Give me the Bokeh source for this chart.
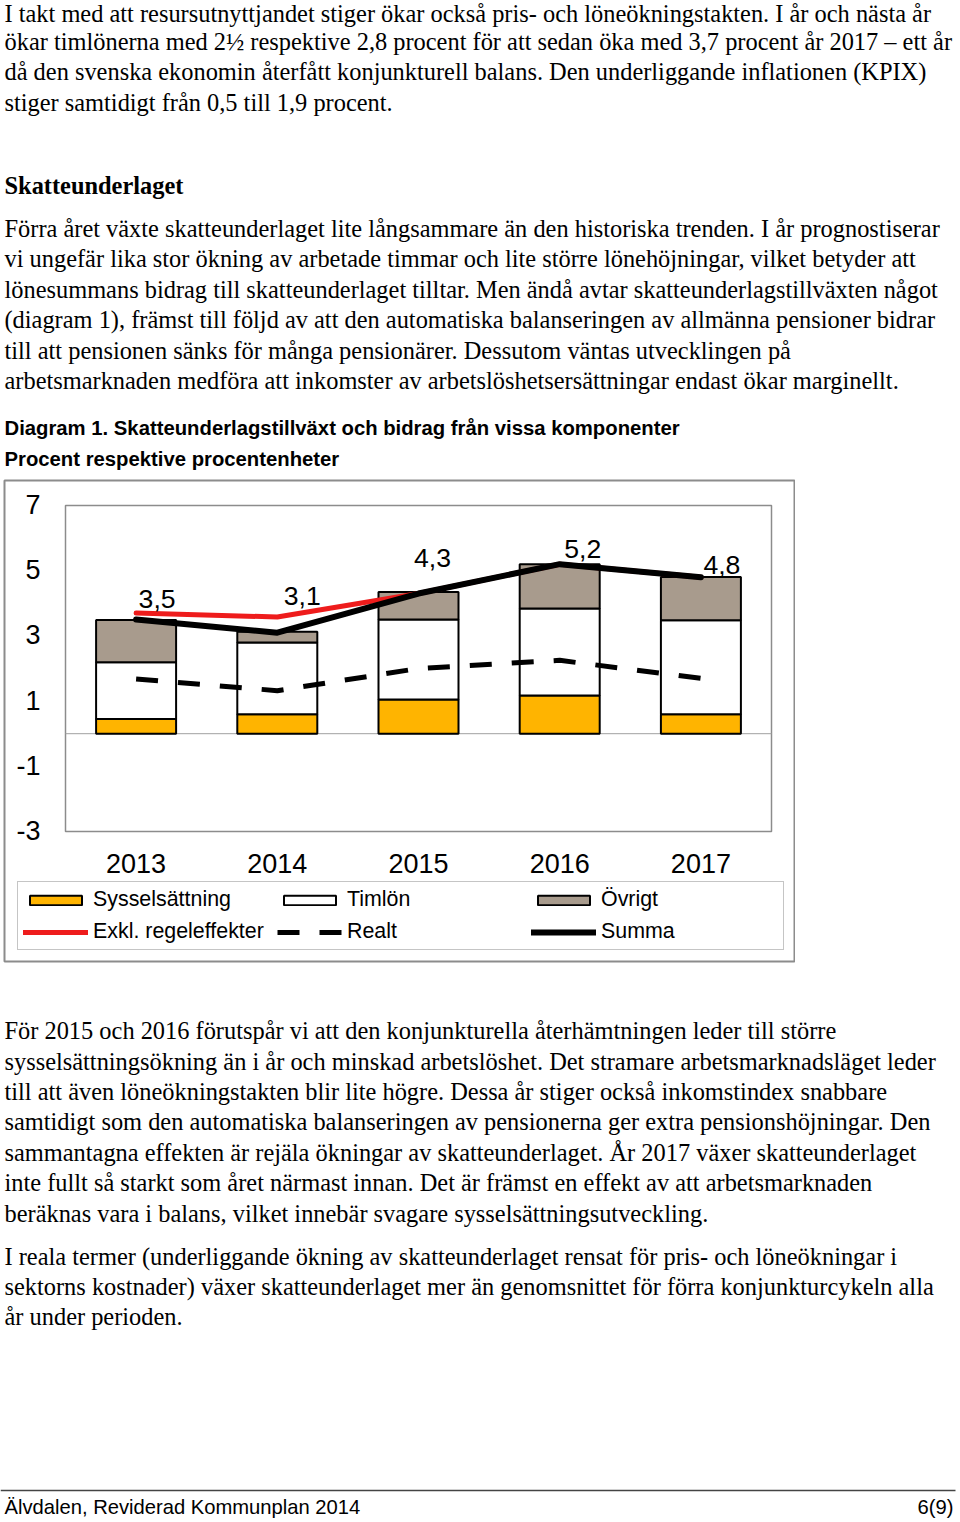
from bokeh.plotting import figure
from bokeh.layouts import column
from bokeh.models import Range1d, ColumnDataSource, Legend, LegendItem
from bokeh.core.properties import value
from bokeh.embed import file_html
from bokeh.resources import INLINE

# ---------------- data ----------------
years = ["2013", "2014", "2015", "2016", "2017"]
sysselsattning = [0.45, 0.60, 1.05, 1.17, 0.60]
timlon = [1.74, 2.20, 2.45, 2.67, 2.88]
ovrigt = [1.30, 0.33, 0.85, 1.36, 1.33]
exkl_regeleffekter = [3.70, 3.58, 4.30, 5.20, 4.80]
realt = [1.68, 1.32, 2.00, 2.25, 1.70]
summa = [3.5, 3.1, 4.3, 5.2, 4.8]
y_ticks = [-3, -1, 1, 3, 5, 7]
series_names = ["Sysselsättning", "Timlön", "Övrigt", "Exkl. regeleffekter", "Realt", "Summa"]

para1 = [
    "I takt med att resursutnyttjandet stiger ökar också pris- och löneökningstakten. I år och nästa år",
    "ökar timlönerna med 2½ respektive 2,8 procent för att sedan öka med 3,7 procent år 2017 – ett år",
    "då den svenska ekonomin återfått konjunkturell balans. Den underliggande inflationen (KPIX)",
    "stiger samtidigt från 0,5 till 1,9 procent.",
]
heading = "Skatteunderlaget"
para2 = [
    "Förra året växte skatteunderlaget lite långsammare än den historiska trenden. I år prognostiserar",
    "vi ungefär lika stor ökning av arbetade timmar och lite större lönehöjningar, vilket betyder att",
    "lönesummans bidrag till skatteunderlaget tilltar. Men ändå avtar skatteunderlagstillväxten något",
    "(diagram 1), främst till följd av att den automatiska balanseringen av allmänna pensioner bidrar",
    "till att pensionen sänks för många pensionärer. Dessutom väntas utvecklingen på",
    "arbetsmarknaden medföra att inkomster av arbetslöshetsersättningar endast ökar marginellt.",
]
chart_title = ["Diagram 1. Skatteunderlagstillväxt och bidrag från vissa komponenter",
               "Procent respektive procentenheter"]
para3 = [
    "För 2015 och 2016 förutspår vi att den konjunkturella återhämtningen leder till större",
    "sysselsättningsökning än i år och minskad arbetslöshet. Det stramare arbetsmarknadsläget leder",
    "till att även löneökningstakten blir lite högre. Dessa år stiger också inkomstindex snabbare",
    "samtidigt som den automatiska balanseringen av pensionerna ger extra pensionshöjningar. Den",
    "sammantagna effekten är rejäla ökningar av skatteunderlaget. År 2017 växer skatteunderlaget",
    "inte fullt så starkt som året närmast innan. Det är främst en effekt av att arbetsmarknaden",
    "beräknas vara i balans, vilket innebär svagare sysselsättningsutveckling.",
]
para4 = [
    "I reala termer (underliggande ökning av skatteunderlaget rensat för pris- och löneökningar i",
    "sektorns kostnader) växer skatteunderlaget mer än genomsnittet för förra konjunkturcykeln alla",
    "år under perioden.",
]
footer_left = "Älvdalen, Reviderad Kommunplan 2014"
footer_right = "6(9)"

# ---------------- styles / layout ----------------
SERIF = value("Liberation Serif")
SANS = value("Liberation Sans")
SANS_NAME = "Liberation Sans"
BODY_SIZE = "24.4px"
ORANGE = "#FFB400"
TAUPE = "#A89B8D"
RED = "#EE1C1C"
FRAME_GRAY = "#8c8c8c"
W = 958
TOP_H, CH_H, BOT_H = 478, 486, 556
LEFT = 4


def no_align(f):
    if "frame_align" in f.properties():
        f.frame_align = False


def text_fig(h):
    f = figure(width=W, height=h, x_range=Range1d(0, W), y_range=Range1d(h, 0),
               output_backend="svg", toolbar_location=None, min_border=0,
               x_axis_location=None, y_axis_location=None, title=None)
    f.grid.visible = False
    f.outline_line_color = None
    f.background_fill_color = "white"
    f.border_fill_color = "white"
    no_align(f)
    return f


def put_lines(f, lines, centers, y0, font, size, style="normal"):
    # empirically the rendered line centre sits ~1px below the given y
    f.text(x=[LEFT] * len(lines), y=[c - 1 - y0 for c in centers], text=lines,
           text_font=font, text_font_size=size, text_font_style=style,
           text_baseline="alphabetic", text_align="left", text_color="black")


# ---------------- top text ----------------
top = text_fig(TOP_H)
put_lines(top, para1, [14, 42, 72, 103], 0, SERIF, BODY_SIZE)
put_lines(top, [heading], [186], 0, SERIF, BODY_SIZE, "bold")
put_lines(top, para2, [229, 259, 290, 320, 351, 381], 0, SERIF, BODY_SIZE)
put_lines(top, chart_title, [428, 459], 0, SANS, "20.3px", "bold")

# ---------------- chart ----------------
# pixel layout of the chart (page coordinates)
OUT_L, OUT_R, OUT_T, OUT_B = 4, 794, 480, 961
IN_L, IN_R, IN_T, IN_B = 65, 771, 505, 831
ymin, ymax = min(y_ticks), max(y_ticks)
ncat = len(years)
cat_px = (IN_R - IN_L) / ncat
unit_px = (IN_B - IN_T) / (ymax - ymin)
x_start = -0.5 - (IN_L - OUT_L) / cat_px
x_end = ncat - 0.5 + (OUT_R - IN_R) / cat_px
y_end = ymax + (IN_T - OUT_T) / unit_px
y_start = ymin - (OUT_B - IN_B) / unit_px

xs = [years.index(y) for y in years]
labels = [f"{v:.1f}".replace(".", ",") for v in summa]
label_dx = [21, 25, 14, 23, 21]
label_dy = [-21, -37, -36, -15.5, -12.5]
src = ColumnDataSource(dict(x=xs, year=years, syss=sysselsattning, tim=timlon, ovr=ovrigt,
                            exkl=exkl_regeleffekter, realt=realt, summa=summa,
                            label=labels, dx=label_dx, dy=label_dy))

p = figure(width=OUT_R + 1, height=CH_H, x_range=Range1d(x_start, x_end),
           y_range=Range1d(y_start, y_end),
           output_backend="svg", toolbar_location=None, title=None,
           x_axis_location=None, y_axis_location=None,
           min_border_left=OUT_L, min_border_right=1,
           min_border_top=OUT_T - TOP_H, min_border_bottom=TOP_H + CH_H - OUT_B)
no_align(p)
p.grid.visible = False
p.outline_line_color = FRAME_GRAY
p.outline_line_width = 2
p.background_fill_color = "white"
p.border_fill_color = "white"

# inner plot area and zero line
p.quad(left=[-0.5], right=[ncat - 0.5], bottom=[ymin], top=[ymax],
       fill_color="white", line_color=FRAME_GRAY, line_width=1.5)
p.segment(x0=[-0.5], x1=[ncat - 0.5], y0=[0], y1=[0], line_color="#a0a0a0", line_width=1)

bars = p.vbar_stack(["syss", "tim", "ovr"], x="x", width=80 / cat_px, source=src,
                    fill_color=[ORANGE, "white", TAUPE], line_color="black", line_width=2)
r_exkl = p.line("x", "exkl", source=src, line_color=RED, line_width=5,
                line_cap="round", line_join="round")
r_summa = p.line("x", "summa", source=src, line_color="black", line_width=6,
                 line_cap="round", line_join="round")
r_realt = p.line("x", "realt", source=src, line_color="black", line_width=5,
                 line_dash="22 20", line_cap="butt")
p.text(x="x", y="summa", text="label", source=src, x_offset="dx", y_offset="dy",
       text_font=SANS, text_font_size="26.6px", text_align="center",
       text_baseline="alphabetic", text_color="black")

# tick labels (value axis) and category labels
p.text(x=[-0.5] * len(y_ticks), y=y_ticks, text=[str(t) for t in y_ticks],
       x_offset=-25, y_offset=-1, text_font=SANS, text_font_size="27px",
       text_align="right", text_baseline="alphabetic", text_color="black")
p.text(x=xs, y=[ymin] * ncat, text=years, y_offset=32,
       text_font=SANS, text_font_size="27px",
       text_align="center", text_baseline="alphabetic", text_color="black")

renderers = [bars[0], bars[1], bars[2], r_exkl, r_realt, r_summa]
legend = Legend(items=[LegendItem(label=n, renderers=[r]) for n, r in zip(series_names, renderers)],
                location=(13, 11), orientation="horizontal", ncols=3,
                glyph_width=65, glyph_height=12, label_height=21, label_width=177,
                label_standoff=5, spacing=7, padding=5, margin=0,
                border_line_color=FRAME_GRAY, border_line_width=1.5,
                background_fill_color="white", background_fill_alpha=1,
                label_text_font=SANS_NAME, label_text_font_size="21.4px",
                label_text_color="black")
p.add_layout(legend)

# ---------------- bottom text ----------------
boff = TOP_H + CH_H
bot = text_fig(BOT_H)
put_lines(bot, para3, [1031, 1062, 1092, 1122, 1153, 1183, 1214], boff, SERIF, BODY_SIZE)
put_lines(bot, para4, [1257, 1287, 1317], boff, SERIF, BODY_SIZE)
bot.segment(x0=[0], x1=[955], y0=[1490 - boff], y1=[1490 - boff], line_color="#444444", line_width=1.5)
bot.text(x=[LEFT], y=[1506 - boff], text=[footer_left], text_font=SANS, text_font_size="20.2px",
         text_baseline="alphabetic", text_align="left", text_color="black")
bot.text(x=[953], y=[1506 - boff], text=[footer_right], text_font=SANS, text_font_size="20.2px",
         text_baseline="alphabetic", text_align="right", text_color="black")

layout = column(top, p, bot, spacing=0)
open("out.html", "w").write(file_html(layout, INLINE))
